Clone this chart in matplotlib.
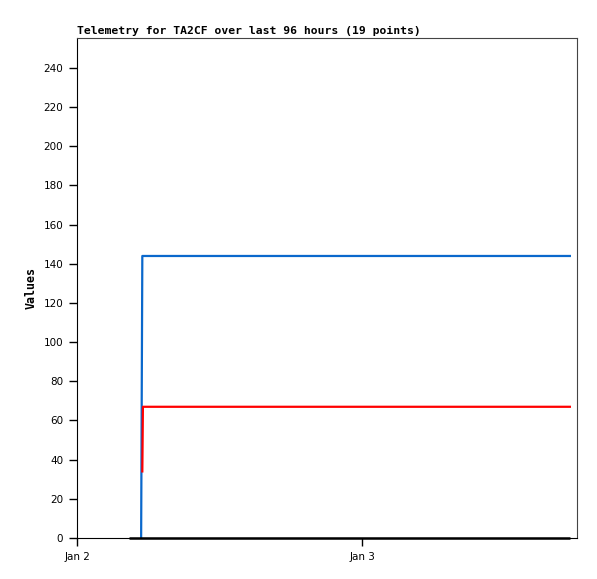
import numpy as np
import matplotlib.pyplot as plt

# hours since Jan 2 00:00
blue_t = [5.4, 5.45, 5.5, 41.5]
blue_v = [0, 72, 144, 144]
red_t = [5.5, 5.55, 41.5]
red_v = [34, 67, 67]
black_t = [4.4, 41.5]
black_v = [0, 0]

tick_hours = [0, 24]
tick_labels = ["Jan 2", "Jan 3"]
yticks = np.arange(0, 241, 20)

fig = plt.figure(figsize=(5.97, 5.79), dpi=100)
ax = fig.add_axes([77 / 597, 41 / 579, 500 / 597, 500 / 579])

ax.plot(black_t, black_v, color="black", lw=1.8, solid_capstyle="butt",
        clip_on=False, zorder=3)
ax.plot(blue_t, blue_v, color="#0a68cc", lw=1.6)
ax.plot(red_t, red_v, color="#ff0000", lw=1.6)

ax.set_xlim(0, 42.1)
ax.set_ylim(0, 255.3)
ax.set_xticks(tick_hours)
ax.set_xticklabels(tick_labels)
ax.set_yticks(yticks)
ax.tick_params(direction="out", length=6, width=1, labelsize=7.5, pad=4)

for s in ["top", "right"]:
    ax.spines[s].set_color("#444444")

ax.set_title("Telemetry for TA2CF over last 96 hours (19 points)", loc="left",
             family="DejaVu Sans Mono", fontweight="bold", fontsize=8.2, pad=3)
ax.set_ylabel("Values", family="DejaVu Sans Mono", fontweight="bold",
              fontsize=8.4, labelpad=4)

fig.savefig("out.png", dpi=100)
